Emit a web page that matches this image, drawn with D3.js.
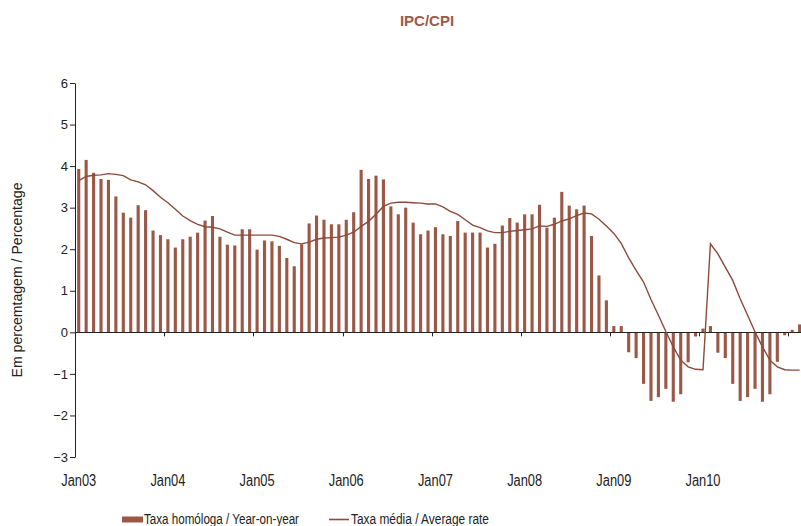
<!DOCTYPE html>
<html>
<head>
<meta charset="utf-8">
<script src="https://cdn.jsdelivr.net/npm/d3@7"></script>
<style>
  body { margin: 0; background: #fff; }
  text { font-family: "Liberation Sans", Arial, sans-serif; }
</style>
</head>
<body>
<div id="chart"></div>
<script>
// monthly categories Jan03 .. Feb11
var years = ["03","04","05","06","07","08","09","10","11"];
var monthNames = ["Jan","Feb","Mar","Apr","May","Jun","Jul","Aug","Sep","Oct","Nov","Dec"];
var months = [];
years.forEach(y => monthNames.forEach(m => months.push(m + y)));
months = months.slice(0, 98);

var tickLabels = ["Jan03","Jan04","Jan05","Jan06","Jan07","Jan08","Jan09","Jan10"];
var yTicks = [-3,-2,-1,0,1,2,3,4,5,6];

// Taxa homóloga / Year-on-year
var yoy = [
  3.93, 4.15, 3.84, 3.69, 3.67, 3.27, 2.88, 2.76, 3.06, 2.94, 2.45, 2.34,
  2.24, 2.04, 2.24, 2.30, 2.40, 2.69, 2.80, 2.30, 2.11, 2.09, 2.48, 2.48,
  1.99, 2.21, 2.19, 2.08, 1.79, 1.59, 2.12, 2.62, 2.81, 2.71, 2.60, 2.60,
  2.71, 2.89, 3.91, 3.69, 3.77, 3.68, 3.03, 2.84, 3.00, 2.64, 2.36, 2.45,
  2.53, 2.36, 2.32, 2.68, 2.40, 2.40, 2.40, 2.04, 2.13, 2.57, 2.75, 2.64,
  2.84, 2.84, 3.07, 2.52, 2.76, 3.38, 3.05, 2.96, 3.05, 2.32, 1.37, 0.77,
  0.15, 0.15, -0.48, -0.62, -1.24, -1.65, -1.56, -1.36, -1.67, -1.49, -0.72, -0.10,
  0.09, 0.15, -0.49, -0.62, -1.24, -1.65, -1.56, -1.36, -1.67, -1.49, -0.71, -0.07,
  0.06, 0.19
];

// Taxa média / Average rate
var avg = [
  3.65, 3.75, 3.78, 3.79, 3.82, 3.80, 3.77, 3.67, 3.62, 3.55, 3.41, 3.25,
  3.12, 2.96, 2.80, 2.69, 2.60, 2.54, 2.53, 2.49, 2.41, 2.34, 2.34, 2.34,
  2.34, 2.34, 2.34, 2.31, 2.24, 2.16, 2.13, 2.17, 2.24, 2.27, 2.28, 2.29,
  2.34, 2.41, 2.55, 2.67, 2.84, 3.03, 3.11, 3.13, 3.13, 3.12, 3.11, 3.09,
  3.09, 3.02, 2.91, 2.84, 2.71, 2.58, 2.52, 2.44, 2.40, 2.40, 2.43, 2.45,
  2.47, 2.49, 2.56, 2.55, 2.60, 2.68, 2.73, 2.81, 2.87, 2.85, 2.72, 2.56,
  2.38, 2.14, 1.79, 1.49, 1.21, 0.79, 0.41, 0.02, -0.35, -0.67, -0.83, -0.89,
  -0.90, 2.13, 1.89, 1.57, 1.25, 0.81, 0.41, 0.01, -0.35, -0.67, -0.83, -0.90,
  -0.91, -0.91
];

var barColor = "#9c5846",
    lineColor = "#8e4a3a",
    axisColor = "#222";

var width = 801, height = 526;
var margin = {top: 83, left: 75, bottom: 457};
var step = 7.432;

var svg = d3.select("#chart")
  .append("svg")
    .attr("width", width)
    .attr("height", height);

var data = months.map((m, i) => ({month: m, yoy: yoy[i], avg: avg[i]}));

var x = d3.scaleBand()
    .domain(months)
    .range([margin.left, margin.left + months.length * step])
    .paddingInner(0.58)
    .paddingOuter(0.29);

var y = d3.scaleLinear()
    .domain([-3, 6])
    .range([margin.bottom, margin.top]);

// title
svg.append("text")
    .attr("x", 427)
    .attr("y", 26)
    .attr("text-anchor", "middle")
    .style("font-weight", "bold")
    .style("font-size", "15px")
    .style("fill", "#a05a4a")
    .text("IPC/CPI");

// bars
svg.selectAll(".bar")
  .data(data)
  .enter()
  .append("rect")
    .attr("class", "bar")
    .attr("x", d => x(d.month))
    .attr("width", x.bandwidth())
    .attr("y", d => y(Math.max(0, d.yoy)))
    .attr("height", d => Math.abs(y(d.yoy) - y(0)))
    .attr("fill", barColor);

// zero axis line
svg.append("line")
    .attr("x1", margin.left).attr("x2", width)
    .attr("y1", Math.round(y(0)) + 0.5).attr("y2", Math.round(y(0)) + 0.5)
    .attr("stroke", axisColor);

// year ticks on the zero line
var yearStarts = months.filter(m => m.startsWith("Jan"));
svg.append("g")
  .selectAll("line")
  .data(yearStarts)
  .enter()
  .append("line")
    .attr("x1", d => Math.round(x(d) - x.step() * x.paddingOuter()) + 0.5)
    .attr("x2", d => Math.round(x(d) - x.step() * x.paddingOuter()) + 0.5)
    .attr("y1", y(0))
    .attr("y2", y(0) + 4)
    .attr("stroke", axisColor);

// year labels at the bottom (narrow face)
svg.append("g")
  .selectAll("text")
  .data(tickLabels)
  .enter()
  .append("text")
    .attr("x", d => x(d) + x.bandwidth() / 2)
    .attr("y", 486)
    .attr("text-anchor", "middle")
    .attr("textLength", 35)
    .attr("lengthAdjust", "spacingAndGlyphs")
    .style("font-size", "16px")
    .style("fill", "#222")
    .text(d => d);

// y axis
var yAxis = d3.axisLeft(y)
    .tickValues(yTicks)
    .tickSize(5)
    .tickSizeOuter(0);
svg.append("g")
    .attr("transform", "translate(" + margin.left + ",0)")
    .call(yAxis)
    .call(g => g.select(".domain").attr("stroke", axisColor))
    .call(g => g.selectAll(".tick line").attr("stroke", axisColor))
    .call(g => g.selectAll(".tick text")
        .style("font-family", "'Liberation Sans', Arial, sans-serif")
        .style("font-size", "13px")
        .style("fill", "#222")
        .attr("x", -7));

// y title
svg.append("text")
    .attr("transform", "translate(22,280) rotate(-90)")
    .attr("text-anchor", "middle")
    .attr("textLength", 195)
    .attr("lengthAdjust", "spacingAndGlyphs")
    .style("font-size", "15px")
    .style("fill", "#222")
    .text("Em percemtagem / Percentage");

// average rate line
var line = d3.line()
    .x(d => x(d.month) + x.bandwidth() / 2)
    .y(d => y(d.avg));
svg.append("path")
    .datum(data)
    .attr("fill", "none")
    .attr("stroke", lineColor)
    .attr("stroke-width", 1.4)
    .attr("d", line);

// legend
var legend = svg.append("g").attr("transform", "translate(0,519)");
legend.append("rect")
    .attr("x", 122).attr("y", -2.5)
    .attr("width", 21).attr("height", 6)
    .attr("fill", barColor);
legend.append("text")
    .attr("x", 144).attr("y", 5)
    .attr("textLength", 155)
    .attr("lengthAdjust", "spacingAndGlyphs")
    .style("font-size", "14px")
    .style("fill", "#222")
    .text("Taxa homóloga / Year-on-year");
legend.append("line")
    .attr("x1", 329).attr("x2", 349)
    .attr("y1", 0.5).attr("y2", 0.5)
    .attr("stroke", lineColor)
    .attr("stroke-width", 1.6);
legend.append("text")
    .attr("x", 351).attr("y", 5)
    .attr("textLength", 138)
    .attr("lengthAdjust", "spacingAndGlyphs")
    .style("font-size", "14px")
    .style("fill", "#222")
    .text("Taxa média / Average rate");
</script>
</body>
</html>
